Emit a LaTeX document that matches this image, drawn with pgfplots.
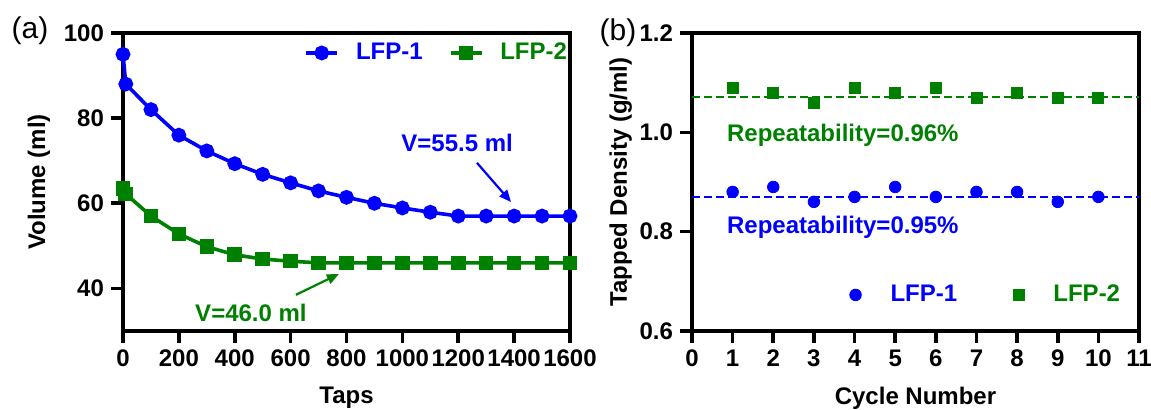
\documentclass[border=0pt]{standalone}
\usepackage{fontspec}
\setmainfont{Liberation Sans}
\usepackage{pgfplots}
\pgfplotsset{compat=1.18}
\usetikzlibrary{arrows.meta}

\definecolor{lblue}{RGB}{0,0,255}
\definecolor{lgreen}{RGB}{0,128,0}

% GraphPad-like frame
\pgfplotsset{gp/.style={
    scale only axis, width=223.5pt, height=149pt,
    anchor=south west,
    axis line style={line width=1.8pt},
    major tick style={line width=1.8pt, black},
    major tick length=6pt,
    tick align=outside, tick pos=left,
    tick label style={font=\fontsize{12}{14}\selectfont\bfseries},
    label style={font=\fontsize{12}{14}\selectfont\bfseries},
    /pgf/number format/assume math mode=true,
    /pgf/number format/set thousands separator={},
    clip=false,
    xlabel style={yshift=-3pt},
    legend style={draw=none, fill=none, inner sep=0pt,
      nodes={inner sep=0pt}, font=\fontsize{12}{14}\selectfont\bfseries},
    legend columns=2,
}}

\begin{document}
\begin{tikzpicture}
\path[use as bounding box] (0,0) rectangle (575.5pt,205pt);

\node[font=\fontsize{15}{17}\selectfont] at (15pt,189.5pt) {(a)};
\node[font=\fontsize{15}{17}\selectfont] at (309pt,188.5pt) {(b)};

% ---- (a) ----
\begin{axis}[gp, at={(61.5pt,39.5pt)},
    xmin=0, xmax=1600, ymin=30, ymax=100,
    xtick={0,200,...,1600}, ytick={40,60,80,100},
    xlabel={Taps}, ylabel={Volume (ml)},
    legend style={at={(0.405,0.933)}, anchor=west},
    /tikz/every odd column/.append style={column sep=8.5pt},
    /tikz/every even column/.append style={column sep=13pt},
    legend image code/.code={\draw[mark repeat=2,mark phase=2,#1]
      plot coordinates {(0pt,0pt)(7.75pt,0pt)(15.5pt,0pt)};},
  ]
  \addplot[lblue, line width=1.8pt, mark=*, mark size=2.8pt] coordinates {
    (0,95) (10,88) (100,82) (200,76) (300,72.3) (400,69.3) (500,66.8)
    (600,64.8) (700,62.9) (800,61.4) (900,60) (1000,58.9) (1100,57.9)
    (1200,57) (1300,57) (1400,57) (1500,57) (1600,57)
  };
  \addlegendentry{\textcolor{lblue}{LFP-1}}
  \addplot[lgreen, line width=1.8pt, mark=square*, mark size=2.75pt] coordinates {
    (0,63.5) (10,62.2) (100,57) (200,52.8) (300,49.8) (400,47.9) (500,46.9)
    (600,46.4) (700,46) (800,46) (900,46) (1000,46) (1100,46) (1200,46)
    (1300,46) (1400,46) (1500,46) (1600,46)
  };
  \addlegendentry{\textcolor{lgreen}{LFP-2}}

  \node[lblue, font=\fontsize{12}{14}\selectfont\bfseries] at (axis cs:1196,74.2) {V=55.5 ml};
  \draw[lblue, line width=1.1pt, -{Triangle[length=6pt,width=5pt]}]
    (axis cs:1267,69.5) -- (axis cs:1389,60.3);
  \node[lgreen, font=\fontsize{12}{14}\selectfont\bfseries] at (axis cs:458,34.2) {V=46.0 ml};
  \draw[lgreen, line width=1.1pt, -{Triangle[length=6pt,width=5pt]}]
    (axis cs:619,38.5) -- (axis cs:773,43.4);
\end{axis}

% ---- (b) ----
\begin{axis}[gp, at={(346pt,39.5pt)},
    xmin=0, xmax=11, ymin=0.6, ymax=1.2,
    xtick={0,1,...,11}, ytick={0.6,0.8,1.0,1.2},
    yticklabel style={/pgf/number format/.cd, fixed, fixed zerofill, precision=1},
    xlabel={Cycle Number}, ylabel={Tapped Density (g/ml)},
    ylabel style={yshift=-3pt},
    legend style={at={(0.352,0.121)}, anchor=west},
    /tikz/every odd column/.append style={column sep=14.6pt},
    /tikz/every even column/.append style={column sep=28pt},
    legend image code/.code={\draw[#1] plot coordinates {(0pt,0pt)};},
  ]
  \addplot[lgreen, line width=1pt, dash pattern=on 4pt off 2pt, forget plot]
    coordinates {(0,1.072) (11,1.072)};
  \addplot[lblue, line width=1pt, dash pattern=on 4pt off 2pt, forget plot]
    coordinates {(0,0.870) (11,0.870)};
  \addplot[lblue, only marks, mark=*, mark size=2.9pt] coordinates {
    (1,0.88) (2,0.89) (3,0.86) (4,0.87) (5,0.89)
    (6,0.87) (7,0.88) (8,0.88) (9,0.86) (10,0.87)
  };
  \addlegendentry{\textcolor{lblue}{LFP-1}}
  \addplot[lgreen, only marks, mark=square*, mark size=2.75pt] coordinates {
    (1,1.09) (2,1.08) (3,1.06) (4,1.09) (5,1.08)
    (6,1.09) (7,1.07) (8,1.08) (9,1.07) (10,1.07)
  };
  \addlegendentry{\textcolor{lgreen}{LFP-2}}

  \node[lgreen, anchor=west, font=\fontsize{12}{14}\selectfont\bfseries]
    at (axis cs:0.69,0.995) {Repeatability=0.96\%};
  \node[lblue, anchor=west, font=\fontsize{12}{14}\selectfont\bfseries]
    at (axis cs:0.69,0.809) {Repeatability=0.95\%};
\end{axis}
\end{tikzpicture}
\end{document}
